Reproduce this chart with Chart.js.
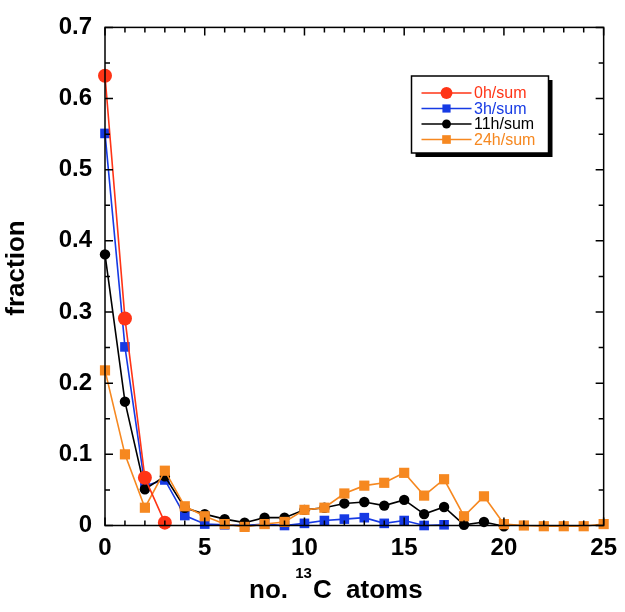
<!DOCTYPE html>
<html>
<head>
<meta charset="utf-8">
<script src="https://cdn.jsdelivr.net/npm/chart.js@4.4.1/dist/chart.umd.min.js"></script>
<style>
  body { margin: 0; background: #fff; }
  #wrap { width: 625px; height: 612px; }
</style>
</head>
<body>
<div id="wrap"><canvas id="fractions" width="625" height="612"></canvas></div>
<script>
// number of 13C atoms (x positions)
const atoms = [0, 1, 2, 3, 4, 5, 6, 7, 8, 9, 10, 11, 12, 13, 14, 15, 16, 17, 18, 19, 20, 21, 22, 23, 24, 25];

const seriesLabels = ["0h/sum", "3h/sum", "11h/sum", "24h/sum"];
const frac0h = [0.632, 0.291, 0.067, 0.004];
const frac3h = [0.551, 0.251, 0.056, 0.064, 0.014, 0.002, 0.001, 0.0, 0.002, 0.0, 0.003, 0.007, 0.009, 0.011, 0.003, 0.007, 0.0, 0.001];
const frac11h = [0.381, 0.174, 0.051, 0.069, 0.025, 0.016, 0.009, 0.004, 0.011, 0.011, 0.022, 0.025, 0.031, 0.033, 0.028, 0.036, 0.016, 0.026, 0.001, 0.005, -0.001];
const frac24h = [0.218, 0.100, 0.025, 0.077, 0.027, 0.013, 0.002, -0.002, 0.002, 0.005, 0.022, 0.025, 0.045, 0.056, 0.060, 0.074, 0.042, 0.065, 0.013, 0.041, 0.002, 0.000, -0.001, -0.001, -0.001, 0.002];

const xTickValues = [0, 5, 10, 15, 20, 25];
const yTickValues = [0, 0.1, 0.2, 0.3, 0.4, 0.5, 0.6, 0.7];

const RED = "rgb(255, 52, 22)";
const BLUE = "rgb(22, 58, 228)";
const ORANGE = "rgb(246, 136, 32)";
const BLACK = "#000";
const FONT = "'Liberation Sans', Arial, Helvetica, sans-serif";

function toPoints(values) {
  return values.map((v, i) => ({ x: atoms[i], y: v }));
}

function makeSeries(label, values, color, style, radius, order) {
  return {
    label: label,
    data: toPoints(values),
    borderColor: color,
    backgroundColor: color,
    borderWidth: 1.6,
    pointStyle: style,
    pointRadius: radius,
    pointBorderWidth: 0,
    showLine: true,
    clip: false,
    order: order,
  };
}

// inward tick marks on all four sides + the frame
const frameTicks = {
  id: "frameTicks",
  afterDatasetsDraw(chart) {
    const { ctx, chartArea: a, scales } = chart;
    const xs = scales.x, ys = scales.y;
    ctx.save();
    ctx.strokeStyle = BLACK;
    ctx.lineWidth = 1.5;
    for (let i = 0; i <= 25; i++) {
      const px = xs.getPixelForValue(i);
      const len = i % 5 === 0 ? 8 : 5;
      ctx.beginPath();
      ctx.moveTo(px, a.bottom); ctx.lineTo(px, a.bottom - len);
      ctx.moveTo(px, a.top); ctx.lineTo(px, a.top + len);
      ctx.stroke();
    }
    for (let i = 0; i <= 14; i++) {
      const py = ys.getPixelForValue(i * 0.05);
      const len = i % 2 === 0 ? 8 : 5;
      ctx.beginPath();
      ctx.moveTo(a.left, py); ctx.lineTo(a.left + len, py);
      ctx.moveTo(a.right, py); ctx.lineTo(a.right - len, py);
      ctx.stroke();
    }
    ctx.strokeRect(a.left, a.top, a.right - a.left, a.bottom - a.top);
    ctx.restore();
  },
  afterDraw(chart) {
    const { ctx } = chart;
    ctx.save();
    ctx.fillStyle = BLACK;
    // x title with superscript
    ctx.textBaseline = "alphabetic";
    ctx.textAlign = "left";
    let x = 249;
    const base = 597.5;
    ctx.font = "bold 26px " + FONT;
    ctx.fillText("no.", x, base);
    x += ctx.measureText("no. ").width;
    ctx.font = "bold 15px " + FONT;
    ctx.fillText("13", x, base - 20);
    x += ctx.measureText("13").width + 1;
    ctx.font = "bold 26px " + FONT;
    ctx.fillText("C  atoms", x, base);
    // y title
    ctx.translate(17, 268);
    ctx.rotate(-Math.PI / 2);
    ctx.textAlign = "center";
    ctx.textBaseline = "middle";
    ctx.font = "bold 26px " + FONT;
    ctx.fillText("fraction", 0, 0);
    ctx.restore();
  },
};

// boxed legend with drop shadow
const boxLegend = {
  id: "boxLegend",
  afterDraw(chart) {
    const { ctx } = chart;
    const bx = 411.5, by = 76, bw = 137, bh = 77;
    ctx.save();
    ctx.fillStyle = BLACK;
    ctx.fillRect(bx + 4, by + 4, bw, bh);
    ctx.fillStyle = "#fff";
    ctx.fillRect(bx, by, bw, bh);
    ctx.strokeStyle = BLACK;
    ctx.lineWidth = 1.5;
    ctx.strokeRect(bx, by, bw, bh);
    const rows = [93, 108.5, 124, 139.5];
    chart.data.datasets.forEach((ds, i) => {
      const y = rows[i];
      ctx.strokeStyle = ds.borderColor;
      ctx.lineWidth = 1.5;
      ctx.beginPath();
      ctx.moveTo(421.5, y); ctx.lineTo(471.5, y);
      ctx.stroke();
      ctx.fillStyle = ds.backgroundColor;
      Chart.helpers.drawPoint(ctx, { pointStyle: ds.pointStyle, radius: ds.pointRadius * 0.85, rotation: 0, borderWidth: 0 }, 446.5, y);
      ctx.fillStyle = ds.borderColor;
      ctx.font = "16px " + FONT;
      ctx.textAlign = "left";
      ctx.textBaseline = "middle";
      ctx.fillText(ds.label, 474, y + 1);
    });
    ctx.restore();
  },
};

new Chart(document.getElementById("fractions"), {
  type: "scatter",
  data: {
    datasets: [
      makeSeries(seriesLabels[0], frac0h, RED, "circle", 7, 0),
      makeSeries(seriesLabels[1], frac3h, BLUE, "rect", 6.8, 3),
      makeSeries(seriesLabels[2], frac11h, BLACK, "circle", 5.2, 2),
      makeSeries(seriesLabels[3], frac24h, ORANGE, "rect", 7.2, 1),
    ],
  },
  options: {
    responsive: false,
    animation: false,
    devicePixelRatio: 1,
    layout: { padding: { top: 22.5, right: 18.5, left: 0, bottom: 0 } },
    plugins: { legend: { display: false }, tooltip: { enabled: false } },
    scales: {
      x: {
        type: "linear",
        min: 0,
        max: 25,
        afterBuildTicks(scale) { scale.ticks = xTickValues.map((v) => ({ value: v })); },
        afterFit(scale) { scale.height = 86.5; },
        grid: { display: false, drawTicks: false },
        border: { display: false },
        ticks: { color: BLACK, padding: 8, maxRotation: 0, font: { family: FONT, size: 24, weight: "bold" } },
      },
      y: {
        min: 0,
        max: 0.7,
        afterBuildTicks(scale) { scale.ticks = yTickValues.map((v) => ({ value: v })); },
        afterFit(scale) { scale.width = 105; },
        grid: { display: false, drawTicks: false },
        border: { display: false },
        ticks: {
          color: BLACK,
          padding: 13,
          font: { family: FONT, size: 24, weight: "bold" },
          callback: (v) => String(Math.round(v * 10) / 10),
        },
      },
    },
  },
  plugins: [frameTicks, boxLegend],
});
</script>
</body>
</html>
